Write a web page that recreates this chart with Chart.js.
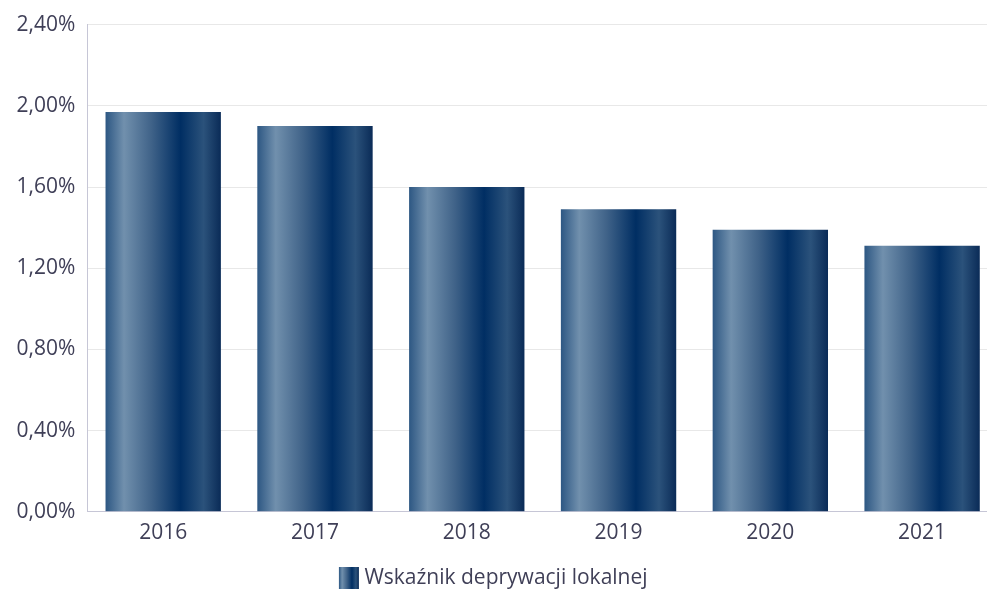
<!DOCTYPE html>
<html>
<head>
<meta charset="utf-8">
<script src="https://cdn.jsdelivr.net/npm/chart.js@4"></script>
<style>
  body { margin: 0; background: #fff; overflow: hidden; }
  #wrap { width: 998px; height: 593px; }
</style>
</head>
<body>
<div id="wrap"><canvas id="chart"></canvas></div>
<script>
const years = ['2016', '2017', '2018', '2019', '2020', '2021'];
const values = [1.97, 1.90, 1.60, 1.49, 1.39, 1.31];
const seriesName = 'Wskaźnik deprywacji lokalnej';

const stops = [
  [0, '#2d5783'], [0.16, '#7190ad'], [0.4, '#3f6288'],
  [0.65, '#002e63'], [0.85, '#2b527b'], [1, '#0a2b57']
];
function makeGrad(ctx, x0, x1) {
  const g = ctx.createLinearGradient(x0, 0, x1, 0);
  stops.forEach(s => g.addColorStop(s[0], s[1]));
  return g;
}

const barPct = 0.76;
const textColor = '#3f3f57';
const font = { family: '"Open Sans", "Noto Sans", sans-serif', size: 21 };

// the plot runs a little past the right edge of the page; keep legend centred on the visible part
const legendBox = {
  id: 'legendBox',
  afterUpdate(chart) {
    const lg = chart.legend;
    if (!lg) return;
    const dx = -8, dy = 6;
    lg.left += dx;
    lg.right += dx;
    lg.top += dy;
    lg.bottom += dy;
    lg.legendHitBoxes.forEach(h => { h.left += dx; h.top += dy; });
  },
  afterDraw(chart) {
    const lg = chart.legend;
    if (!lg || !lg.legendHitBoxes.length) return;
    const hb = lg.legendHitBoxes[0];
    const ctx = chart.ctx;
    const w = 20, h = 22;
    const y = hb.top + (hb.height - h) / 2;
    ctx.save();
    ctx.fillStyle = '#fff';
    ctx.fillRect(hb.left - 1, y - 1, w + 1, h + 2);
    ctx.fillStyle = makeGrad(ctx, hb.left, hb.left + w);
    ctx.fillRect(hb.left, y, w, h);
    ctx.restore();
  }
};

new Chart(document.getElementById('chart'), {
  type: 'bar',
  data: {
    labels: years,
    datasets: [{
      label: seriesName,
      data: values,
      categoryPercentage: 1,
      barPercentage: barPct,
      backgroundColor: c => {
        const chart = c.chart;
        if (!chart.chartArea || c.dataIndex === undefined) return '#1d4573';
        const xs = chart.scales.x;
        const cx = xs.getPixelForValue(c.dataIndex);
        const w = (xs.width / years.length) * barPct;
        return makeGrad(chart.ctx, cx - w / 2, cx + w / 2);
      }
    }]
  },
  options: {
    responsive: true,
    maintainAspectRatio: false,
    animation: false,
    layout: { padding: { top: 8, right: 0, left: 4.5, bottom: 0 } },
    scales: {
      x: {
        grid: { display: false, drawTicks: false },
        border: { color: '#c6c6d6', width: 1 },
        ticks: { color: textColor, font: font, padding: 9 },
        afterFit: s => { s.height += 2; }
      },
      y: {
        min: 0,
        max: 2.4,
        grid: { color: '#e8e8e8', drawTicks: false },
        border: { color: '#c6c6d6', width: 1 },
        ticks: {
          stepSize: 0.4,
          color: textColor,
          font: font,
          padding: 12,
          callback: v => v.toFixed(2).replace('.', ',') + '%'
        }
      }
    },
    plugins: {
      legend: {
        position: 'bottom',
        labels: {
          color: textColor,
          font: font,
          boxWidth: 15,
          boxHeight: 22,
          padding: 4
        }
      },
      tooltip: { enabled: false }
    }
  },
  plugins: [legendBox]
});
</script>
</body>
</html>
